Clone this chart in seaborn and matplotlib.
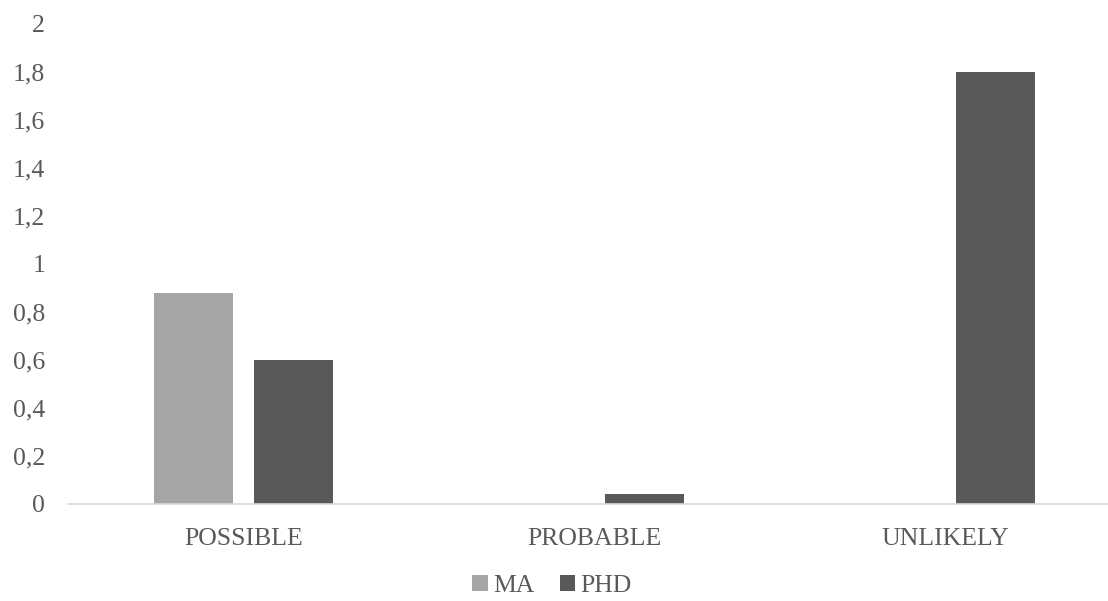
import matplotlib
matplotlib.use("Agg")
import matplotlib.pyplot as plt
import seaborn as sns
import pandas as pd
from matplotlib.ticker import FuncFormatter, MultipleLocator
from matplotlib.patches import Patch

categories = ["POSSIBLE", "PROBABLE", "UNLIKELY"]
ma_values = [0.88, 0.0, 0.0]
phd_values = [0.60, 0.04, 1.80]
series_names = ["MA", "PHD"]
colors = {"MA": "#A5A5A5", "PHD": "#595959"}

df = pd.DataFrame({
    "category": categories * 2,
    "group": ["MA"] * 3 + ["PHD"] * 3,
    "value": ma_values + phd_values,
})

sns.set_theme(style="white")
plt.rcParams["font.family"] = ["Liberation Serif", "DejaVu Serif"]
text_color = "#595959"

fig = plt.figure(figsize=(11.08, 6.01), dpi=100)
ax = fig.add_axes([68 / 1108, (601 - 504) / 601, (1108 - 68) / 1108, 480 / 601])

sns.barplot(data=df, x="category", y="value", hue="group", order=categories,
            hue_order=series_names, palette=colors, width=0.57, gap=0.21,
            linewidth=0, ax=ax, legend=False)

ax.set_ylim(0, 2)
ax.set_xlim(-0.5, 2.463)
ax.yaxis.set_major_locator(MultipleLocator(0.2))
ax.yaxis.set_major_formatter(FuncFormatter(lambda v, p: (f"{v:.1f}".rstrip("0").rstrip(".")).replace(".", ",")))
ax.set_xlabel("")
ax.set_ylabel("")
for s in ["top", "right", "left"]:
    ax.spines[s].set_visible(False)
ax.spines["bottom"].set_color("#D9D9D9")
ax.spines["bottom"].set_linewidth(1.2)
ax.tick_params(axis="both", length=0, labelsize=18.5, colors=text_color)
ax.tick_params(axis="y", pad=16.5)
ax.tick_params(axis="x", pad=17)
ax.grid(False)

handles = [Patch(facecolor=colors[n], edgecolor="none", label=n) for n in series_names]
fig.legend(handles=handles, loc="center", bbox_to_anchor=(552 / 1108, 1 - 586 / 601),
           ncol=2, frameon=False, fontsize=18.5, handlelength=0.6, handleheight=0.6,
           handletextpad=0.2, columnspacing=1.0, labelcolor=text_color)

fig.savefig("out.png", dpi=100)
